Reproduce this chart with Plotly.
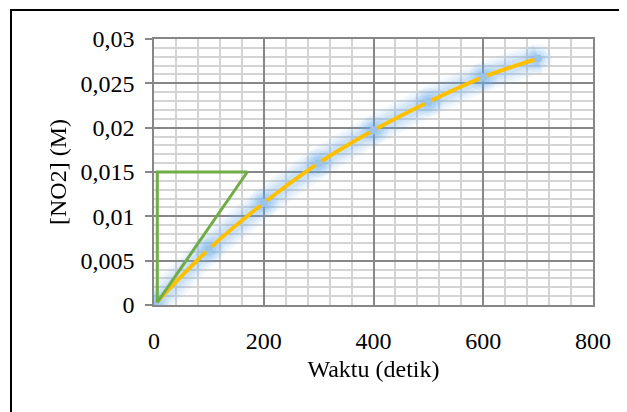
import plotly.graph_objects as go

# Data
waktu = [0, 100, 200, 300, 400, 500, 600, 700]
no2 = [0.0, 0.0063, 0.0115, 0.0160, 0.0197, 0.0229, 0.0257, 0.0278]

tangent_x = [170, 6, 6, 170]
tangent_y = [0.015, 0.015, 0.0003, 0.015]

x_ticks = [0, 200, 400, 600, 800]
x_ticktext = ["0", "200", "400", "600", "800"]
y_ticks = [0, 0.005, 0.01, 0.015, 0.02, 0.025, 0.03]
y_ticktext = ["0", "0,005", "0,01", "0,015", "0,02", "0,025", "0,03"]

FONT = "Liberation Serif, Times New Roman, serif"
GLOW = "#6AAEF0"

fig = go.Figure()

# glow layers along the series
for w, op in [(30, 0.07), (24, 0.08), (18, 0.10), (12, 0.12)]:
    fig.add_trace(go.Scatter(
        x=waktu, y=no2, mode="lines",
        line=dict(color=GLOW, width=w, shape="spline"),
        opacity=op, hoverinfo="skip", showlegend=False))
for s, op in [(28, 0.10), (21, 0.13), (15, 0.18)]:
    fig.add_trace(go.Scatter(
        x=waktu, y=no2, mode="markers",
        marker=dict(color=GLOW, size=s, line=dict(width=0)),
        opacity=op, hoverinfo="skip", showlegend=False))

# yellow curve
fig.add_trace(go.Scatter(
    x=waktu, y=no2, mode="lines",
    line=dict(color="#FFC000", width=4, shape="spline"),
    hoverinfo="skip", showlegend=False))

# markers
fig.add_trace(go.Scatter(
    x=waktu, y=no2, mode="markers",
    marker=dict(color="#9DC3E6", size=8, line=dict(width=0)),
    showlegend=False))

# tangent triangle
fig.add_trace(go.Scatter(
    x=tangent_x, y=tangent_y, mode="lines",
    line=dict(color="#70AD47", width=3),
    hoverinfo="skip", showlegend=False))

fig.update_layout(
    width=619, height=404,
    margin=dict(l=146, r=34, t=31, b=107),
    paper_bgcolor="white", plot_bgcolor="white",
    font=dict(family=FONT, size=24, color="black"),
    showlegend=False,
    shapes=[dict(type="rect", xref="paper", yref="paper",
                 x0=(11 - 154) / 439, x1=(700 - 154) / 439,
                 y0=(305 - 500) / 266, y1=(305 - 10) / 266,
                 line=dict(color="black", width=2), layer="below")],
)

fig.update_xaxes(
    range=[0, 800], tickvals=x_ticks, ticktext=x_ticktext,
    showgrid=True, gridcolor="#878787", gridwidth=1.5,
    minor=dict(dtick=40, showgrid=True, gridcolor="#D4D4D4", gridwidth=1.5),
    showline=True, linecolor="#878787", linewidth=1.5, mirror=True,
    zeroline=False, ticks="", ticklabelstandoff=13,
    title=dict(text="Waktu (detik)", font=dict(family=FONT, size=24), standoff=8),
)
fig.update_yaxes(
    range=[0, 0.03], tickvals=y_ticks, ticktext=y_ticktext,
    showgrid=True, gridcolor="#878787", gridwidth=1.5,
    minor=dict(dtick=0.001, showgrid=True, gridcolor="#D4D4D4", gridwidth=1.5),
    showline=True, linecolor="#878787", linewidth=1.5, mirror=True,
    zeroline=False, ticks="outside", ticklen=7, tickcolor="#878787", tickwidth=1.5,
    ticklabelstandoff=6,
    title=dict(text="[NO2] (M)", font=dict(family=FONT, size=24), standoff=7),
)

fig.write_html("out.html")
